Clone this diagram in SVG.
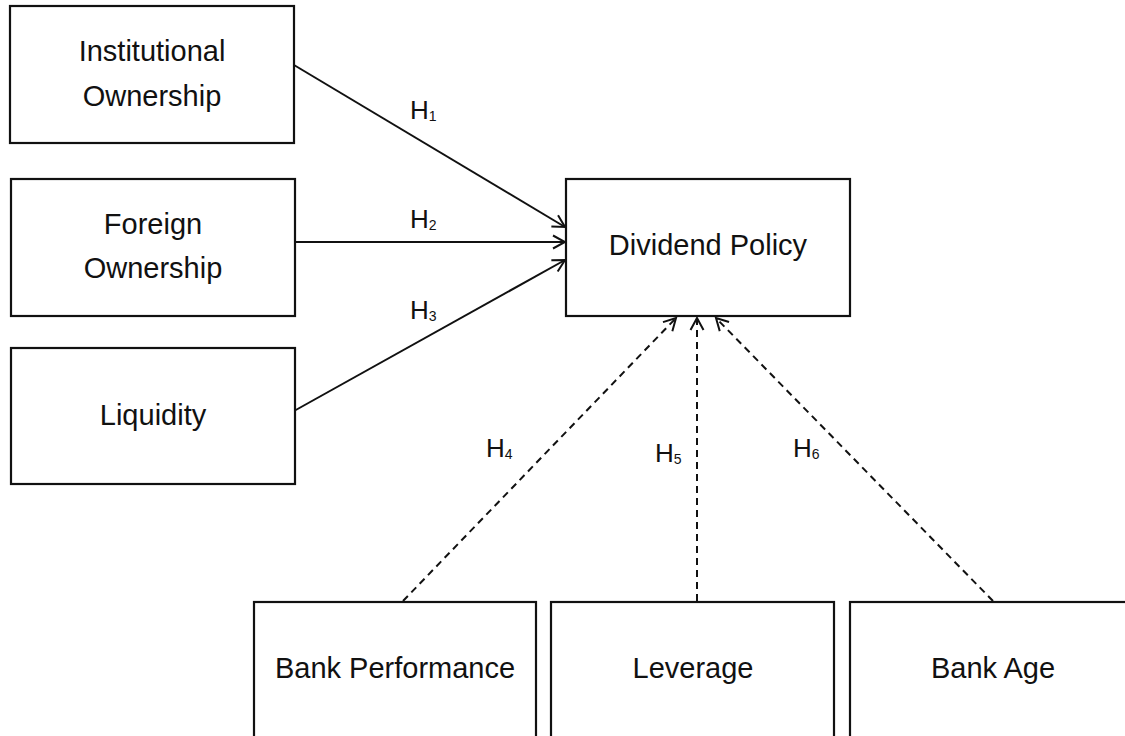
<svg xmlns="http://www.w3.org/2000/svg" width="1125" height="736" viewBox="0 0 1125 736">
<defs>
<style>
.box{fill:#fff;stroke:#111;stroke-width:2.2}
.t{font-family:"Liberation Sans",Arial,sans-serif;font-size:29px;fill:#111;text-anchor:middle}
.h{font-family:"Liberation Sans",Arial,sans-serif;font-size:26px;fill:#111}
.s{font-size:14px}
.c{fill:none;stroke:#111;stroke-width:2}
.d{stroke-dasharray:7 5}
</style>
<marker id="arr" viewBox="0 0 16 16" refX="14" refY="8" markerWidth="16" markerHeight="16" markerUnits="userSpaceOnUse" orient="auto">
<path d="M2,1.5 L14,8 L2,14.5" fill="none" stroke="#111" stroke-width="2"/>
</marker>
</defs>
<rect width="1125" height="736" fill="#fff"/>
<g id="connectors">
<line class="c" x1="294" y1="65" x2="565" y2="227" marker-end="url(#arr)"/>
<line class="c" x1="294" y1="242" x2="565" y2="242" marker-end="url(#arr)"/>
<line class="c" x1="294" y1="411" x2="565" y2="260" marker-end="url(#arr)"/>
<line class="c d" x1="403" y1="601" x2="676" y2="318" marker-end="url(#arr)"/>
<line class="c d" x1="697" y1="601" x2="697" y2="318" marker-end="url(#arr)"/>
<line class="c d" x1="993" y1="601" x2="716" y2="318" marker-end="url(#arr)"/>
</g>
<g id="labels">
<text class="h" x="410" y="119">H<tspan class="s" dy="2">1</tspan></text>
<text class="h" x="410" y="228">H<tspan class="s" dy="2">2</tspan></text>
<text class="h" x="410" y="319">H<tspan class="s" dy="2">3</tspan></text>
<text class="h" x="486" y="457">H<tspan class="s" dy="2">4</tspan></text>
<text class="h" x="655" y="462">H<tspan class="s" dy="2">5</tspan></text>
<text class="h" x="793" y="457">H<tspan class="s" dy="2">6</tspan></text>
</g>
<g id="institutional">
<rect class="box" x="10" y="6" width="284" height="137"/>
<text class="t" x="152" y="61">Institutional</text>
<text class="t" x="152" y="106">Ownership</text>
</g>
<g id="foreign">
<rect class="box" x="11" y="179" width="284" height="137"/>
<text class="t" x="153" y="234">Foreign</text>
<text class="t" x="153" y="278">Ownership</text>
</g>
<g id="liquidity">
<rect class="box" x="11" y="348" width="284" height="136"/>
<text class="t" x="153" y="425">Liquidity</text>
</g>
<g id="dividend">
<rect class="box" x="566" y="179" width="284" height="137"/>
<text class="t" x="708" y="255">Dividend Policy</text>
</g>
<g id="bankperf">
<rect class="box" x="254" y="602" width="282" height="160"/>
<text class="t" x="395" y="678">Bank Performance</text>
</g>
<g id="leverage">
<rect class="box" x="551" y="602" width="283" height="160"/>
<text class="t" x="693" y="678">Leverage</text>
</g>
<g id="bankage">
<rect class="box" x="850" y="602" width="286" height="160"/>
<text class="t" x="993" y="678">Bank Age</text>
</g>
</svg>
